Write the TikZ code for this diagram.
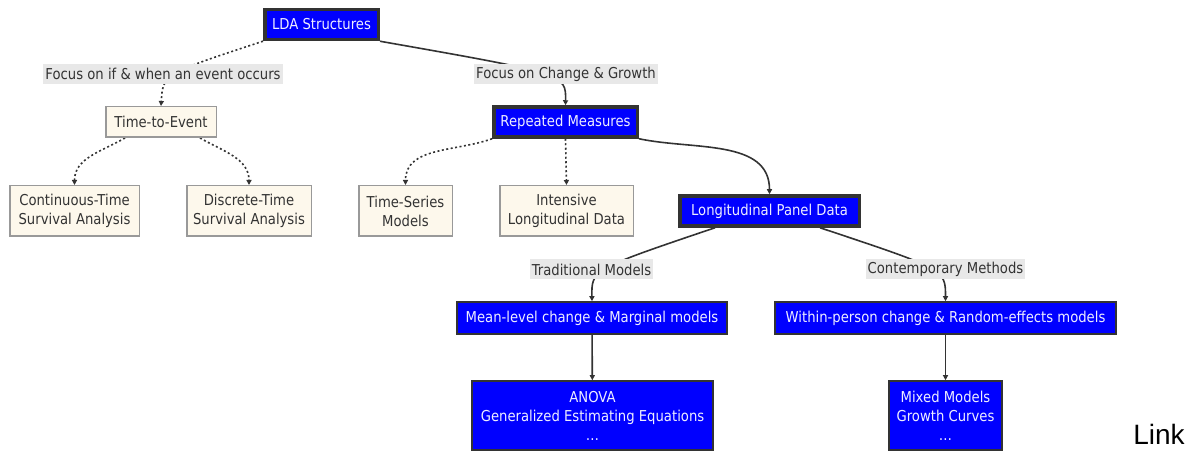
\documentclass[tikz,border=0pt]{standalone}
\usepackage{fontspec}
\setmainfont{DejaVu Sans}[FakeStretch=0.88]
\newfontfamily\linkfont{Liberation Sans}
\usetikzlibrary{arrows,arrows.meta,backgrounds,positioning}

\begin{document}
\begin{tikzpicture}
			\definecolor{mainBlue}{RGB}{0, 0, 255}
			\definecolor{darkLine}{RGB}{51, 51, 51}
			\definecolor{paleFill}{RGB}{253, 248, 236}
			\definecolor{paleBorder}{RGB}{153, 153, 153}
			\definecolor{labelFill}{RGB}{232, 232, 232}
			\definecolor{paleText}{RGB}{238, 238, 255}
			\tikzstyle{every node}=[font=\fontsize{15}{19}\selectfont]
			\tikzstyle{keybox}=[rectangle, draw=darkLine, line width=3.5pt, fill=mainBlue, text=paleText, minimum height=30pt, inner sep=0pt, align=center]
			\tikzstyle{bluebox}=[rectangle, draw=darkLine, line width=1.6pt, fill=mainBlue, text=paleText, minimum height=32pt, inner sep=0pt, align=center]
			\tikzstyle{palebox}=[rectangle, draw=paleBorder, line width=1.5pt, fill=paleFill, text=darkLine, minimum height=50.5pt, inner sep=0pt, align=center]
			\tikzstyle{edgelabel}=[rectangle, fill=labelFill, text=darkLine, inner xsep=2pt, inner ysep=0pt, minimum height=20pt]
			\tikzstyle{solidlink}=[draw=darkLine, line width=1.6pt, -{Triangle[length=5pt,width=5pt]}]
			\tikzstyle{dottedlink}=[solidlink, dash pattern=on 2pt off 2.5pt]

			\useasboundingbox (0,0) rectangle (1192pt,-462pt);

			\node [keybox, minimum width=113.5pt, xshift=321.5pt, yshift=-24.5pt] (lda) {LDA Structures};
			\node [edgelabel, xshift=163pt, yshift=-74pt] (focusEvent) {Focus on if \& when an event occurs};
			\node [edgelabel, xshift=566pt, yshift=-74pt] (focusChange) {Focus on Change \& Growth};
			\node [palebox, minimum width=110.5pt, minimum height=30.5pt, xshift=161pt, yshift=-122pt] (tte) {Time-to-Event};
			\node [keybox, minimum width=143.5pt, xshift=565.5pt, yshift=-122pt] (rep) {Repeated Measures};
			\node [palebox, minimum width=129.5pt, xshift=74.5pt, yshift=-211pt] (cts) {Continuous-Time\\Survival Analysis};
			\node [palebox, minimum width=124.5pt, xshift=249pt, yshift=-211pt] (dts) {Discrete-Time\\Survival Analysis};
			\node [palebox, minimum width=93.5pt, xshift=405.5pt, yshift=-211pt] (tsm) {Time-Series\\Models};
			\node [palebox, minimum width=133.5pt, xshift=566.5pt, yshift=-211pt] (ild) {Intensive\\Longitudinal Data};
			\node [keybox, minimum width=179.5pt, xshift=769.5pt, yshift=-211pt] (lpd) {Longitudinal Panel Data};
			\node [edgelabel, xshift=591.5pt, yshift=-269.5pt] (tradModels) {Traditional Models};
			\node [edgelabel, xshift=945.5pt, yshift=-269.5pt] (contMethods) {Contemporary Methods};
			\node [bluebox, minimum width=270pt, xshift=592pt, yshift=-318pt] (meanLevel) {Mean-level change \& Marginal models};
			\node [bluebox, minimum width=341pt, xshift=945.5pt, yshift=-318pt] (withinPerson) {Within-person change \& Random-effects models};
			\node [bluebox, minimum width=241pt, minimum height=69pt, xshift=592.5pt, yshift=-415.5pt] (anova) {ANOVA\\Generalized Estimating Equations\\\dots};
			\node [bluebox, minimum width=113pt, minimum height=69pt, xshift=945.5pt, yshift=-415.5pt] (mixed) {Mixed Models\\Growth Curves\\\dots};
			\node [font=\linkfont\fontsize{28}{30}\selectfont, xshift=1159pt, yshift=-434pt] (link) {Link};

			\begin{pgfonlayer}{background}
			\draw[dottedlink] (lda.south west) .. controls (focusEvent.center) .. (tte.north);
			\draw[solidlink] (lda.south east) .. controls (focusChange.center) .. (rep.north);
			\draw[dottedlink] ([xshift=20pt]tte.south west) to[out=210, in=90] (cts.north);
			\draw[dottedlink] ([xshift=-17pt]tte.south east) to[out=-30, in=90] (dts.north);
			\draw[dottedlink] (rep.south west) to[out=200, in=90] (tsm.north);
			\draw[dottedlink] (rep.south) -- (ild.north);
			\draw[solidlink] (rep.south east) to[out=-12, in=90] (lpd.north);
			\draw[solidlink] ([xshift=37pt]lpd.south west) .. controls (tradModels.center) .. (meanLevel.north);
			\draw[solidlink] ([xshift=-41pt]lpd.south east) .. controls (contMethods.center) .. (withinPerson.north);
			\draw[solidlink] (meanLevel) -- (anova);
			\draw[solidlink] (withinPerson) -- (mixed);
			\end{pgfonlayer}
		\end{tikzpicture}
\end{document}
